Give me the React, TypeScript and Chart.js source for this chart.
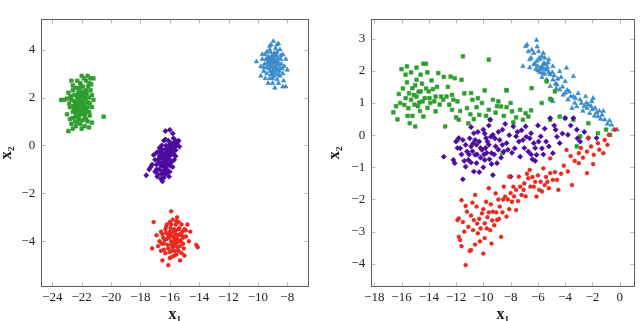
import React, { useEffect, useRef } from 'react';
import { Chart, registerables } from 'chart.js';
Chart.register(...registerables);

type P = [number, number];

// ---------- tick labels ----------
const leftXTicks = [-24, -22, -20, -18, -16, -14, -12, -10, -8];
const leftYTicks = [-4, -2, 0, 2, 4];
const rightXTicks = [-18, -16, -14, -12, -10, -8, -6, -4, -2, 0];
const rightYTicks = [-4, -3, -2, -1, 0, 1, 2, 3];

// ---------- left panel (a) ----------
const leftGreen: P[] = [
  [-22.1,1.8],[-22.0,1.6],[-22.3,1.9],[-21.9,2.0],[-22.2,1.5],[-21.8,1.7],[-22.4,1.7],[-22.0,2.2],[-22.2,2.4],[-21.7,2.3],
  [-21.5,2.6],[-21.4,2.8],[-21.2,2.8],[-21.6,2.9],[-22.0,2.9],[-22.3,2.7],[-22.6,2.5],[-22.5,2.1],[-22.7,1.9],[-23.0,1.95],
  [-23.2,1.9],[-23.4,1.9],[-22.9,2.2],[-22.8,1.6],[-22.6,1.4],[-22.4,1.2],[-22.2,1.1],[-22.0,1.3],[-21.8,1.2],[-21.6,1.0],
  [-21.5,1.4],[-21.3,1.6],[-21.2,1.9],[-21.3,2.1],[-21.5,2.0],[-21.6,1.6],[-21.9,1.4],[-22.1,0.9],[-22.4,0.8],[-22.7,0.9],
  [-22.9,0.6],[-22.6,0.7],[-21.8,0.8],[-21.5,0.75],[-21.3,0.95],[-20.5,1.2],[-22.8,1.1],[-23.0,1.3],[-22.5,1.55],[-22.3,2.05],
  [-21.9,2.45],[-21.7,2.7],[-22.1,2.6],[-21.4,2.3],[-22.6,2.3],[-21.95,1.85],[-22.15,1.65],[-22.05,2.05],[-21.85,1.55],[-22.35,1.45],
  [-21.75,1.95],[-22.5,1.85],[-21.65,2.15],[-22.25,2.2],[-22.45,1.0],[-21.95,1.05],[-22.7,2.7],[-21.45,1.25],[-22.85,1.75],[-22.0,0.7],
  [-22.05,1.75],[-21.9,1.9],[-22.2,1.95],[-22.1,1.35],[-21.7,1.5],[-22.3,1.6],[-21.8,2.1],[-22.15,2.35],[-21.6,1.8],[-22.4,1.35],
  [-22.0,1.45],[-22.25,1.75],[-21.85,2.25],[-22.1,2.1],[-22.35,1.85],[-21.95,1.65],[-22.2,1.25],[-21.75,1.35],[-22.55,1.65],[-22.05,2.5],
  [-21.55,2.45],[-22.45,2.4],[-21.85,2.8],[-22.6,1.15],[-21.7,1.1],[-22.3,0.95],[-21.45,1.75],[-22.75,2.05],[-21.35,2.55],[-22.1,1.55],
];
const leftPurple: P[] = [
  [-16.3,-0.5],[-16.1,-0.3],[-16.5,-0.7],[-16.0,-0.1],[-16.4,-0.9],[-16.2,-0.6],[-15.9,-0.4],[-16.6,-0.5],[-16.7,-1.0],[-16.8,-1.2],
  [-16.6,-1.4],[-16.5,-1.5],[-17.0,-1.1],[-17.2,-0.8],[-17.3,-0.9],[-17.6,-1.25],[-17.1,-0.4],[-16.9,-0.3],[-16.7,-0.1],[-16.4,0.2],
  [-16.3,0.6],[-16.0,0.65],[-15.8,0.5],[-15.6,0.2],[-15.5,0.1],[-15.35,-0.05],[-15.4,0.2],[-15.7,0.1],[-15.6,-0.2],[-15.7,-0.6],
  [-15.8,-0.9],[-16.0,-1.1],[-16.2,-1.0],[-15.9,-0.7],[-16.1,-0.8],[-16.5,-0.2],[-16.8,-0.6],[-16.9,-0.8],[-17.0,-0.6],[-16.6,-0.3],
  [-16.2,-0.2],[-16.0,-0.4],[-15.8,-0.2],[-15.9,0.1],[-16.1,0.2],[-16.3,-1.2],[-16.5,-1.1],[-16.7,-0.7],[-16.35,-0.35],[-16.15,-0.55],
  [-16.45,-0.8],[-15.75,-0.35],[-16.25,0.0],[-16.55,0.0],[-16.85,-1.3],[-17.4,-1.0],[-15.6,-0.45],[-16.05,-1.3],[-16.4,-1.35],[-15.55,0.0],
  [-16.2,-0.75],[-16.45,-0.55],[-16.0,-0.6],[-16.3,-0.15],[-16.6,-0.85],[-15.85,-0.05],[-16.15,-0.35],[-16.55,-1.2],
  [-16.35,-0.65],[-16.1,-0.45],[-16.25,-0.9],[-15.95,-0.25],[-16.5,-0.4],[-16.7,-0.45],[-16.05,0.0],[-16.3,0.25],[-15.75,0.3],[-16.6,-0.15],
  [-16.9,-1.0],[-16.4,-1.05],[-15.95,-0.85],[-16.75,-0.25],[-15.65,-0.05],[-16.2,-1.15],
];
const leftRed: P[] = [
  [-15.8,-3.8],[-15.6,-3.7],[-15.9,-4.0],[-15.5,-3.9],[-16.0,-3.6],[-15.7,-4.2],[-15.4,-3.5],[-16.2,-3.9],[-15.3,-4.0],[-16.1,-4.3],
  [-15.6,-3.3],[-15.8,-3.1],[-15.9,-2.75],[-15.5,-3.0],[-15.2,-3.3],[-15.0,-3.5],[-14.9,-3.8],[-15.1,-4.1],[-15.2,-4.5],[-15.0,-4.6],
  [-15.4,-4.4],[-15.7,-4.6],[-16.0,-4.7],[-16.1,-5.0],[-16.3,-4.5],[-16.5,-4.8],[-16.6,-4.4],[-16.8,-4.2],[-16.4,-4.1],[-16.5,-3.7],
  [-16.3,-3.5],[-16.2,-3.3],[-16.6,-3.6],[-16.9,-3.75],[-17.1,-3.2],[-17.2,-4.3],[-16.0,-3.2],[-15.7,-3.5],[-15.3,-3.7],[-14.8,-3.3],
  [-14.7,-4.0],[-14.6,-3.6],[-14.2,-4.15],[-14.1,-4.25],[-15.3,-4.8],[-15.6,-4.1],[-15.85,-4.4],[-16.05,-3.85],[-15.45,-4.25],[-15.95,-3.45],
  [-15.65,-3.95],[-15.75,-3.6],[-16.35,-3.95],[-15.25,-3.95],[-15.55,-4.55],[-16.15,-4.15],[-15.15,-3.6],[-16.7,-4.0],[-15.4,-3.2],[-15.85,-4.65],
  [-15.7,-3.85],[-15.5,-4.05],[-15.95,-3.7],[-16.25,-3.65],[-15.35,-3.45],[-15.8,-4.25],[-15.1,-3.85],[-16.4,-4.35],
  [-15.6,-3.55],[-15.9,-4.15],[-15.45,-3.75],[-16.1,-3.75],[-15.75,-4.05],[-15.3,-4.2],[-16.25,-3.4],[-15.55,-3.15],[-15.05,-4.3],[-16.45,-3.85],
  [-15.9,-3.3],[-15.2,-3.75],[-15.65,-4.4],[-16.0,-4.45],[-14.9,-3.55],[-16.55,-4.1],
];
const leftBlue: P[] = [
  [-9.0,3.4],[-8.8,3.5],[-9.1,3.3],[-8.9,3.6],[-9.2,3.5],[-8.7,3.2],[-9.0,3.1],[-8.6,3.4],[-9.3,3.7],[-9.4,3.9],
  [-9.2,4.0],[-8.95,4.35],[-8.7,4.2],[-8.6,4.25],[-9.1,4.2],[-9.5,3.8],[-9.7,3.6],[-9.8,3.3],[-10.1,3.5],[-9.6,3.1],
  [-9.4,3.0],[-9.2,2.8],[-9.0,2.6],[-8.85,2.4],[-8.7,2.75],[-8.5,2.9],[-8.3,3.0],[-8.2,3.3],[-8.1,3.6],[-8.3,3.8],
  [-8.45,3.6],[-8.5,4.0],[-8.0,3.15],[-8.3,2.45],[-8.1,2.45],[-9.5,2.8],[-9.8,2.9],[-8.8,3.0],[-9.05,3.75],[-8.75,3.8],
  [-9.25,3.2],[-8.9,2.9],[-8.55,3.1],[-9.35,3.45],[-8.65,3.65],[-9.15,3.9],[-8.85,3.25],[-9.55,3.4],[-8.4,3.4],[-9.0,3.55],
  [-8.95,3.05],[-9.45,3.6],[-8.6,2.6],[-9.7,3.8],[-8.35,3.2],[-9.1,2.95],[-8.8,4.05],[-9.3,2.6],[-8.25,2.7],[-9.6,3.25],
  [-8.9,3.45],[-9.05,3.6],[-8.75,3.35],[-9.2,3.65],[-8.85,3.75],[-9.0,3.25],
  [-9.1,3.45],[-8.95,3.7],[-8.8,3.15],[-9.25,3.35],[-8.65,3.5],[-9.05,3.0],[-8.7,3.9],[-9.3,3.55],[-8.5,3.25],[-9.15,3.1],
  [-8.9,3.85],[-9.4,3.25],[-8.45,3.75],[-9.0,2.8],[-8.6,2.95],[-9.2,4.15],
];

// ---------- right panel (b) ----------
const rightGreen: P[] = [
  [-16.6,0.71],[-16.3,0.49],[-16.2,1.28],[-16.0,2.05],[-15.6,2.14],[-15.7,1.88],[-15.6,1.64],[-15.8,0.94],[-15.5,0.84],[-15.4,0.37],
  [-15.0,0.27],[-15.2,1.46],[-14.9,1.72],[-14.6,1.88],[-14.4,2.22],[-14.2,2.22],[-14.6,1.36],[-14.3,1.15],[-14.0,1.36],[-13.9,1.0],
  [-14.4,0.58],[-14.7,1.02],[-13.7,1.43],[-13.5,1.2],[-13.3,1.93],[-13.1,1.2],[-12.9,1.81],[-12.7,1.2],[-13.5,0.74],[-12.8,0.27],
  [-12.4,1.82],[-12.1,1.77],[-12.2,1.1],[-11.9,1.05],[-12.3,0.79],[-11.6,1.72],[-11.5,2.45],[-11.8,0.48],[-11.2,0.84],[-10.9,1.31],
  [-10.8,1.1],[-10.5,0.87],[-11.1,0.37],[-11.9,-0.15],[-10.3,0.63],[-9.9,1.39],[-9.6,2.35],[-9.6,0.79],[-9.3,1.1],[-9.5,0.48],
  [-8.9,1.05],[-8.7,0.89],[-8.3,1.39],[-8.3,0.87],[-7.9,0.74],[-7.3,0.79],[-6.9,0.68],[-6.5,0.77],[-6.7,0.58],[-7.1,0.48],
  [-6.46,1.46],[-5.36,1.67],[-4.75,1.36],[-5.72,1.0],[-8.3,1.4],[-5.1,1.13],[-5.0,1.1],[-5.1,0.48],[-4.4,0.58],[-4.0,0.53],
  [-3.4,0.48],[-2.9,-0.04],[-2.3,0.37],[-1.6,0.06],[-1.0,0.17],[-0.7,0.01],[-3.15,-0.35],[-8.6,-0.56],
  [-15.3,1.1],[-15.0,1.55],[-14.8,0.9],[-15.9,1.45],[-14.5,1.6],[-13.8,1.7],[-15.3,1.95],[-14.1,0.85],[-13.2,0.95],[-12.6,1.5],
  [-12.0,0.55],[-10.7,0.5],[-10.1,1.0],[-9.1,0.7],[-8.0,1.0],[-7.6,0.55],[-11.4,1.3],[-14.9,2.1],[-16.1,1.0],[-15.2,0.6],
  [-15.1,1.25],[-14.75,1.35],[-14.45,1.05],[-14.9,1.2],[-15.45,1.3],[-14.2,1.45],[-13.95,1.15],[-15.7,1.15],[-14.65,0.75],[-15.05,0.95],
  [-13.6,1.05],[-12.95,1.1],[-12.5,0.95],[-11.7,0.75],[-10.95,0.65],[-10.4,1.15],[-9.8,0.6],[-9.0,0.9],[-8.5,0.6],[-7.8,0.4],
  [-14.1,1.95],[-13.4,1.5],[-12.3,1.25],[-15.55,0.6],[-16.4,0.9],
];
const rightPurple: P[] = [
  [-12.9,-0.67],[-12.2,-0.77],[-12.1,-0.87],[-11.5,-1.37],[-11.8,-0.09],[-11.5,-0.15],[-11.7,-0.41],[-11.2,-0.51],[-11.3,-0.98],[-11.1,-0.77],
  [-10.9,-0.35],[-10.7,0.06],[-10.6,-0.61],[-10.7,-1.13],[-10.5,-0.87],[-10.3,-0.2],[-10.1,-0.46],[-10.0,0.17],[-9.9,-0.77],[-9.8,-0.09],
  [-9.6,-0.3],[-9.5,0.48],[-9.4,-0.56],[-9.3,0.01],[-9.1,-0.35],[-9.0,-0.87],[-9.3,-1.24],[-8.8,-0.15],[-8.6,0.17],[-8.5,-0.51],
  [-8.3,-0.25],[-8.0,-1.29],[-7.8,0.27],[-7.7,-0.41],[-7.6,-0.04],[-7.3,-0.67],[-7.1,-0.15],[-6.9,0.27],[-6.7,-0.51],[-6.5,0.06],
  [-6.3,-0.25],[-6.1,-0.61],[-5.8,-0.04],[-5.7,-0.41],[-5.4,-0.2],[-5.1,0.53],[-4.9,-0.56],[-4.7,0.17],[-4.4,-0.25],[-4.0,0.53],
  [-3.8,0.01],[-3.4,0.53],[-3.15,0.17],[-2.9,-0.2],[-2.3,-0.09],[-1.7,-0.09],[-6.2,-0.8],
  [-10.8,-0.5],[-10.2,-0.7],[-9.7,-0.2],[-11.0,-0.1],[-10.4,0.1],[-9.2,-0.6],[-8.9,0.1],[-10.0,-1.0],[-11.6,-0.6],[-9.6,0.3],
  [-7.0,-0.4],[-6.6,-0.1],[-5.5,0.2],[-7.5,0.1],[-6.0,0.3],[-10.5,-0.3],[-9.4,-0.9],[-11.3,-0.3],[-8.7,-0.7],[-8.1,0.0],
  [-10.9,-0.85],[-9.9,0.05],[-7.9,-0.55],[-6.4,-0.75],[-4.6,-0.05],[-3.6,0.3],[-2.6,0.1],[-10.3,-1.15],[-11.9,-0.4],[-8.4,0.35],
  [-10.6,-0.15],[-10.2,-0.4],[-9.75,-0.55],[-9.45,-0.05],[-9.85,-0.4],[-10.45,-0.6],[-11.05,-0.6],[-9.15,-0.1],[-8.9,-0.45],[-8.6,-0.3],
  [-11.4,-0.8],[-10.75,-0.25],[-9.55,-0.75],[-8.2,-0.45],[-7.4,-0.2],[-6.85,-0.05],[-6.2,-0.4],[-5.95,-0.2],[-5.2,-0.35],[-4.8,0.3],
  [-7.2,0.15],[-6.5,-0.6],[-5.6,-0.6],[-4.2,0.05],[-3.1,-0.1],[-10.9,0.25],[-9.95,-0.6],[-12.0,-0.2],
];
const rightRed: P[] = [
  [-11.3,-4.04],[-11.8,-3.16],[-11.7,-3.26],[-11.9,-2.64],[-11.8,-2.59],[-11.6,-2.02],[-11.2,-2.38],[-11.1,-2.85],[-10.9,-3.57],[-10.7,-2.64],
  [-10.6,-1.86],[-10.5,-2.22],[-10.4,-3.05],[-10.1,-2.43],[-10.0,-3.68],[-9.9,-2.74],[-9.8,-2.07],[-9.6,-1.65],[-9.5,-2.95],[-9.4,-3.37],
  [-9.3,-2.38],[-9.1,-1.81],[-9.0,-2.64],[-8.8,-2.22],[-8.7,-3.16],[-8.5,-1.6],[-8.4,-1.91],[-8.3,-2.53],[-8.1,-1.29],[-7.9,-2.07],
  [-7.8,-1.6],[-7.6,-2.33],[-7.4,-1.29],[-7.2,-1.86],[-7.0,-1.5],[-6.7,-1.34],[-6.6,-1.08],[-6.3,-1.6],[-6.1,-1.91],[-5.8,-1.45],
  [-5.6,-1.03],[-5.2,-1.65],[-5.1,-1.18],[-4.9,-1.39],[-4.6,-1.39],[-4.5,-1.7],[-5.1,-0.72],[-3.8,-1.13],[-3.5,-1.55],[-3.9,-0.46],
  [-3.0,-0.56],[-3.0,-0.87],[-2.4,-1.18],[-2.4,-0.51],[-2.1,-0.35],[-1.9,-0.61],[-1.6,-0.25],[-1.2,-0.56],[-1.1,-0.15],[-0.8,0.01],
  [-0.34,0.17],[-2.3,-0.09],
  [-10.2,-2.9],[-9.6,-2.4],[-8.9,-2.0],[-10.9,-2.5],[-11.4,-3.0],[-8.2,-2.0],[-7.6,-1.7],[-6.9,-1.9],[-6.4,-1.3],[-5.9,-1.7],
  [-5.4,-1.3],[-9.9,-3.2],[-10.6,-3.4],[-11.0,-3.6],[-10.3,-2.6],[-9.2,-2.8],[-8.6,-2.4],[-7.3,-1.6],[-6.2,-1.45],[-4.3,-1.2],
  [-3.3,-0.8],[-2.7,-0.7],[-1.5,-0.45],[-0.9,-0.3],[-11.5,-2.7],[-10.8,-2.1],[-9.7,-2.55],[-8.0,-1.8],[-6.8,-1.2],[-5.5,-1.55],
  [-10.45,-2.75],[-10.0,-2.3],[-9.45,-2.15],[-9.05,-2.4],[-8.55,-2.0],[-8.1,-2.3],[-7.75,-1.9],[-7.05,-1.7],[-6.55,-1.6],[-6.0,-1.25],
  [-5.7,-1.75],[-5.3,-1.45],[-4.75,-1.15],[-11.3,-2.2],[-10.75,-2.95],[-10.25,-3.3],[-9.75,-2.9],[-9.35,-2.65],[-8.85,-2.6],[-11.6,-3.45],
  [-4.1,-0.95],[-3.6,-0.65],[-2.85,-0.4],[-1.95,-0.9],[-7.45,-2.05],
];
const rightBlue: P[] = [
  [-6.9,2.76],[-6.8,2.81],[-6.1,2.95],[-7.1,2.14],[-6.6,2.35],[-6.3,2.55],[-6.0,2.14],[-5.7,2.45],[-5.55,2.24],[-5.35,2.03],
  [-5.1,1.88],[-5.2,2.35],[-4.9,1.72],[-4.9,2.14],[-5.35,1.72],[-4.6,1.57],[-4.4,1.41],[-4.0,1.31],[-3.9,2.09],[-3.8,1.1],
  [-3.4,1.2],[-3.15,0.89],[-3.4,1.83],[-2.8,0.99],[-2.5,1.2],[-2.4,0.84],[-2.2,0.68],[-2.05,1.05],[-1.8,0.84],[-1.6,0.58],
  [-1.3,0.63],[-1.1,0.48],[-0.6,0.32],[-0.46,0.17],[-0.2,0.17],[-5.1,1.52],[-4.4,1.98],[-5.65,1.93],[-6.2,2.2],[-5.85,2.35],
  [-4.9,1.05],[-3.5,0.84],[-4.0,1.67],
  [-6.0,2.0],[-5.8,2.1],[-5.6,2.2],[-5.5,1.9],[-5.9,2.4],[-6.3,2.2],[-5.4,2.2],[-5.2,1.95],[-4.7,1.6],[-4.2,1.5],
  [-3.6,1.2],[-3.3,1.0],[-2.9,1.1],[-2.6,0.9],[-2.3,0.95],[-2.0,0.8],[-1.7,0.7],[-1.4,0.5],[-0.9,0.35],[-4.8,1.85],
  [-5.7,1.8],[-6.5,2.4],[-6.6,2.1],[-3.7,1.35],[-2.1,0.9],[-6.1,2.3],[-5.75,2.05],[-5.3,2.1],[-4.55,1.75],[-4.15,1.25],
  [-3.05,1.3],[-2.7,0.75],[-1.95,1.15],[-1.2,0.75],[-6.7,2.6],[-5.95,2.6],[-5.5,2.4],[-4.3,1.8],
  [-5.65,2.1],[-5.45,2.05],[-5.85,1.95],[-6.15,2.05],[-5.25,2.25],[-4.95,1.95],[-4.65,1.45],[-3.85,1.4],[-3.25,1.15],[-2.45,1.0],
  [-1.85,0.6],[-1.5,0.75],[-0.75,0.45],[-6.45,2.65],[-6.05,2.75],[-5.6,2.55],
];

const FONT = "'Liberation Serif', 'DejaVu Serif', serif";
const GREEN = '#2f9e2f';
const PURPLE = '#4d0a9e';
const RED = '#e8291d';
const BLUE = '#3a8cc8';

const fmt = (v: number | string) => {
  const n = Number(v);
  return n < 0 ? '\u2212' + Math.abs(n) : String(n);
};

const frameTicks = {
  id: 'frameTicks',
  afterDatasetsDraw(chart: any) {
    const { ctx, chartArea: a, scales } = chart;
    const L = Math.round(a.left) + 0.5;
    const R = Math.round(a.right) - 0.5;
    const T = Math.round(a.top) + 0.5;
    const B = Math.round(a.bottom) - 0.5;
    ctx.save();
    ctx.lineWidth = 1;
    ctx.strokeStyle = '#b8b8b8';
    ctx.beginPath();
    for (const t of scales.x.ticks) {
      const px = Math.round(scales.x.getPixelForValue(t.value)) + 0.5;
      ctx.moveTo(px, B); ctx.lineTo(px, B - 4);
      ctx.moveTo(px, T); ctx.lineTo(px, T + 4);
    }
    for (const t of scales.y.ticks) {
      const py = Math.round(scales.y.getPixelForValue(t.value)) + 0.5;
      ctx.moveTo(L, py); ctx.lineTo(L + 4, py);
      ctx.moveTo(R, py); ctx.lineTo(R - 4, py);
    }
    ctx.stroke();
    ctx.strokeStyle = '#5c5c5c';
    ctx.strokeRect(L, T, R - L, B - T);
    ctx.restore();
  },
};

interface PanelCfg {
  green: P[]; purple: P[]; red: P[]; blue: P[];
  xTicks: number[]; yTicks: number[];
  xMin: number; xMax: number; yMin: number; yMax: number;
  yAxisWidth: number; padRight: number; yTitlePad: number;
}

const ds = (label: string, pts: P[], color: string, style: string, r: number) => ({
  label,
  data: pts.map(([x, y]) => ({ x, y })),
  pointStyle: style,
  pointRadius: r,
  backgroundColor: color,
  borderColor: color,
  borderWidth: 0.6,
  showLine: false,
});

function Panel({ cfg, left }: { cfg: PanelCfg; left: number }) {
  const ref = useRef<HTMLCanvasElement>(null);
  useEffect(() => {
    const chart = new Chart(ref.current as HTMLCanvasElement, {
      type: 'scatter',
      data: {
        datasets: [
          ds('red', cfg.red, RED, 'circle', 1.9),
          ds('purple', cfg.purple, PURPLE, 'rectRot', 2.6),
          ds('green', cfg.green, GREEN, 'rect', 2.6),
          ds('blue', cfg.blue, BLUE, 'triangle', 2.6),
        ] as any,
      },
      options: {
        responsive: false,
        devicePixelRatio: 1,
        animation: false,
        events: [],
        layout: { padding: { left: 0, top: 18.7, right: cfg.padRight, bottom: 0 } },
        plugins: { legend: { display: false }, tooltip: { enabled: false } },
        scales: {
          x: {
            type: 'linear',
            min: cfg.xMin,
            max: cfg.xMax,
            afterFit: (s: any) => { s.height = 34; },
            afterBuildTicks: (s: any) => { s.ticks = cfg.xTicks.map((v) => ({ value: v })); },
            grid: { display: false, drawTicks: false },
            border: { display: false },
            ticks: { callback: fmt, color: '#222', font: { family: FONT, size: 13 }, padding: 3, maxRotation: 0, autoSkip: false },
            title: { display: true, text: 'x\u2081', color: '#222', font: { family: FONT, size: 16, weight: 'bold', lineHeight: 0.8 }, padding: { top: 0, bottom: 0 } },
          },
          y: {
            type: 'linear',
            min: cfg.yMin,
            max: cfg.yMax,
            afterFit: (s: any) => { s.width = cfg.yAxisWidth; },
            afterBuildTicks: (s: any) => { s.ticks = cfg.yTicks.map((v) => ({ value: v })); },
            grid: { display: false, drawTicks: false },
            border: { display: false },
            ticks: { callback: fmt, color: '#222', font: { family: FONT, size: 13 }, padding: 5.5, autoSkip: false },
            title: { display: true, text: 'x\u2082', color: '#222', font: { family: FONT, size: 16, weight: 'bold', lineHeight: 0.8 }, padding: { top: cfg.yTitlePad, bottom: 0 } },
          },
        },
      } as any,
      plugins: [frameTicks],
    });
    return () => chart.destroy();
  }, []);
  return (
    <canvas
      ref={ref}
      width={320}
      height={321}
      style={{ position: 'absolute', left, top: 0, width: 320, height: 321 }}
    />
  );
}

const leftCfg: PanelCfg = {
  green: leftGreen, purple: leftPurple, red: leftRed, blue: leftBlue,
  xTicks: leftXTicks, yTicks: leftYTicks,
  xMin: -24.79, xMax: -6.52, yMin: -5.91, yMax: 5.29,
  yAxisWidth: 40.7, padRight: 11, yTitlePad: 0,
};
const rightCfg: PanelCfg = {
  green: rightGreen, purple: rightPurple, red: rightRed, blue: rightBlue,
  xTicks: rightXTicks, yTicks: rightYTicks,
  xMin: -18.26, xMax: 1.12, yMin: -4.72, yMax: 3.62,
  yAxisWidth: 50.7, padRight: 5, yTitlePad: 8,
};

export default function App() {
  return (
    <div style={{ position: 'absolute', left: 0, top: 0, width: 640, height: 321, background: '#fff', overflow: 'hidden' }}>
      <Panel cfg={leftCfg} left={0} />
      <Panel cfg={rightCfg} left={320} />
    </div>
  );
}
